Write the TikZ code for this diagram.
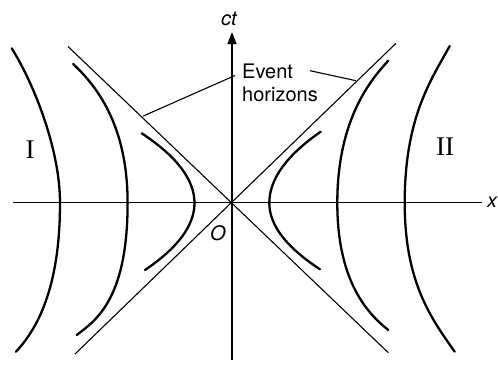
\documentclass[tikz,border=0pt]{standalone}
\usepackage{fontspec}
\setmainfont{Liberation Serif}
\setsansfont{TeX Gyre Heros}
\usetikzlibrary{arrows.meta}
\begin{document}
\begin{tikzpicture}[x=1pt,y=-1pt,
  curve/.style={line width=2.3pt, line cap=round, line join=round},
  axisline/.style={line width=1.5pt},
  vaxisline/.style={line width=1.3pt},
  horizon/.style={line width=1.1pt},
  leader/.style={line width=1.1pt},
  sanslbl/.style={font=\fontsize{20}{22}\selectfont\sffamily, inner sep=0pt},
  itlbl/.style={font=\fontsize{20}{22}\selectfont\sffamily\itshape, inner sep=0pt},
  romlbl/.style={font=\fontsize{27}{30}\selectfont\rmfamily, inner sep=0pt}]
\useasboundingbox (0,0) rectangle (498,370);
% key points
\coordinate (O) at (232,202.5);
\coordinate (xl) at (13,202.5);
\coordinate (xr) at (482,202.5);
\coordinate (yb) at (232,360);
\coordinate (yt) at (232,32);
\coordinate (h1a) at (68,46.5);
\coordinate (h1b) at (388.3,352.7);
\coordinate (h2a) at (396,43.3);
\coordinate (h2b) at (75,354);
% axes
\draw[axisline] (xl) -- (xr);
\draw[vaxisline, -{Triangle[length=12pt,width=9pt]}] (yb) -- (yt);
% event horizons
\draw[horizon] (h1a) -- (h1b);
\draw[horizon] (h2a) -- (h2b);
% world lines (hyperbolae)
% inner
\draw[curve] (141.7,133.3) .. controls (176.9,156.5) and (194.5,179.8) .. (194.5,203)
             .. controls (194.5,225.3) and (178,247.7) .. (145,270);
\draw[curve] (320.7,131.7) .. controls (286.4,155.5) and (269.3,179.2) .. (269.3,203)
             .. controls (269.3,225.1) and (286.2,247.2) .. (320,269.3);
% middle
\draw[curve] (73.3,64) .. controls (94.9,84.7) and (127.6,123) .. (127.6,203)
             .. controls (127.6,298) and (96.7,320) .. (76.7,335);
\draw[curve] (388.3,60.7) .. controls (367.8,82.6) and (337.3,123) .. (337.3,203)
             .. controls (337.3,283) and (368.8,314.4) .. (388.3,330);
% outer
\draw[curve] (11.7,48.3) .. controls (33,82.1) and (60,148) .. (60,203)
             .. controls (60,283) and (39.9,326.1) .. (16,351.7);
\draw[curve] (449.7,46) .. controls (430.4,81) and (404.7,118) .. (404.7,203)
             .. controls (404.7,283) and (431.7,319) .. (454.7,351.7);
% labels
\node[sanslbl, anchor=base west] (ev) at (242,78.5) {Event};
\node[sanslbl, anchor=base west] (hz) at (242,101.5) {horizons};
\node[itlbl] (ct) at (229,19) {ct};
\node[itlbl] (xlab) at (492,202) {x};
\node[itlbl] (olab) at (218,233) {O};
\node[romlbl] (r1) at (30,150) {I};
\node[romlbl] (r2) at (445,147) {II};
% leaders
\coordinate (p1) at (143.3,116);
\coordinate (p2) at (356,80.7);
\coordinate (e1) at (235,75.5);
\coordinate (e2) at (310,70.7);
\draw[leader] (p1) -- (e1);
\draw[leader] (e2) -- (p2);
\end{tikzpicture}
\end{document}
